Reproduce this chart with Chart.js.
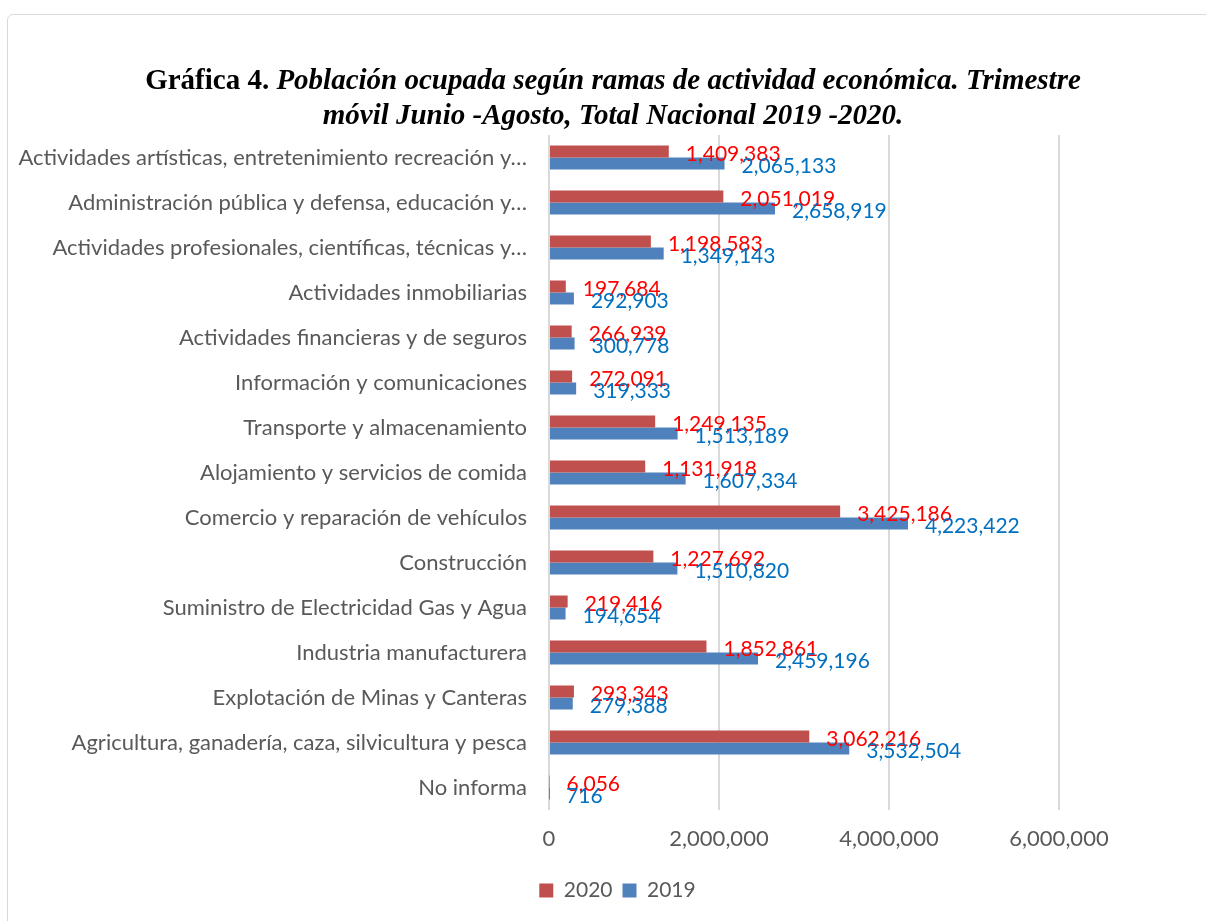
<!DOCTYPE html>
<html>
<head>
<meta charset="utf-8">
<script src="https://cdn.jsdelivr.net/npm/chart.js@4.4.0/dist/chart.umd.min.js"></script>
<style>
  html, body { margin: 0; padding: 0; background: #fff; }
  #wrap { position: relative; width: 1206px; height: 921px; overflow: hidden; }
  #frame { position: absolute; left: 7px; top: 14px; width: 1220px; height: 930px; border: 1px solid #d9d9d9; border-radius: 6px; box-sizing: border-box; }
  #title { position: absolute; left: 0; top: 62px; width: 1226px; text-align: center; font-family: "Liberation Serif", "Times New Roman", serif; font-weight: bold; font-size: 29px; line-height: 35px; color: #000; }
  #title i { font-style: italic; }
  canvas { position: absolute; left: 0; top: 0; }
</style>
</head>
<body>
<div id="wrap">
  <div id="frame"></div>
  <canvas id="c" width="1206" height="921"></canvas>
  <div id="title">Gráfica 4. <i>Población ocupada según ramas de actividad económica. Trimestre<br>móvil Junio -Agosto, Total Nacional 2019 -2020.</i></div>
</div>
<script>
const categories = [
  "Actividades artísticas, entretenimiento recreación y…",
  "Administración pública y defensa, educación y…",
  "Actividades profesionales, científicas, técnicas y…",
  "Actividades inmobiliarias",
  "Actividades financieras y de seguros",
  "Información y comunicaciones",
  "Transporte y almacenamiento",
  "Alojamiento y servicios de comida",
  "Comercio y reparación de vehículos",
  "Construcción",
  "Suministro de Electricidad Gas y Agua",
  "Industria manufacturera",
  "Explotación de Minas y Canteras",
  "Agricultura, ganadería, caza, silvicultura y pesca",
  "No informa"
];
const values2020 = [1409383, 2051019, 1198583, 197684, 266939, 272091, 1249135, 1131918, 3425186, 1227692, 219416, 1852861, 293343, 3062216, 6056];
const values2019 = [2065133, 2658919, 1349143, 292903, 300778, 319333, 1513189, 1607334, 4223422, 1510820, 194654, 2459196, 279388, 3532504, 716];
const seriesNames = ["2020", "2019"];
const xTicks = [0, 2000000, 4000000, 6000000];

const FONT = "Lato";
const fmt = v => Number(v).toLocaleString('en-US');
const labelColors = ["#FF0000", "#0070C0"];

const dataLabels = {
  id: 'dataLabels',
  afterDatasetsDraw(chart) {
    const ctx = chart.ctx;
    ctx.save();
    ctx.font = "21px " + FONT;
    ctx.textAlign = "left";
    ctx.textBaseline = "middle";
    chart.data.datasets.forEach((ds, i) => {
      const meta = chart.getDatasetMeta(i);
      ctx.fillStyle = labelColors[i];
      meta.data.forEach((el, j) => {
        ctx.fillText(fmt(ds.data[j]), el.x + 17, el.y + 3);
      });
    });
    ctx.restore();
  }
};

const legendShift = {
  id: 'legendShift',
  afterLayout(chart) {
    const lg = chart.legend;
    if (lg) { lg.left += 88; lg.right += 88; }
  }
};

new Chart(document.getElementById('c'), {
  type: 'bar',
  data: {
    labels: categories,
    datasets: [
      { label: seriesNames[0], data: values2020, backgroundColor: "#C0504D", categoryPercentage: 0.533, barPercentage: 1.0 },
      { label: seriesNames[1], data: values2019, backgroundColor: "#4F81BD", categoryPercentage: 0.533, barPercentage: 1.0 }
    ]
  },
  options: {
    indexAxis: 'y',
    responsive: false,
    animation: false,
    layout: { padding: { left: 0, right: 147, top: 135, bottom: 10 } },
    scales: {
      x: {
        min: 0, max: 6000000,
        afterBuildTicks: s => { s.ticks = xTicks.map(v => ({ value: v })); },
        afterFit: s => { s.height = 60; },
        grid: { color: "#d9d9d9", lineWidth: 2, drawTicks: false },
        border: { display: false },
        ticks: { padding: 16, color: "#595959", font: { family: FONT, size: 22 }, callback: v => fmt(v), maxRotation: 0 }
      },
      y: {
        afterFit: s => { s.width = 549; },
        grid: { display: false, drawTicks: false },
        border: { display: false },
        ticks: { padding: 22, color: "#595959", font: { family: FONT, size: 22 }, autoSkip: false }
      }
    },
    plugins: {
      legend: {
        position: 'bottom',
        labels: { boxWidth: 14, boxHeight: 14, padding: 10, color: "#595959", font: { family: FONT, size: 21 } }
      },
      tooltip: { enabled: false }
    }
  },
  plugins: [dataLabels, legendShift]
});
</script>
</body>
</html>
